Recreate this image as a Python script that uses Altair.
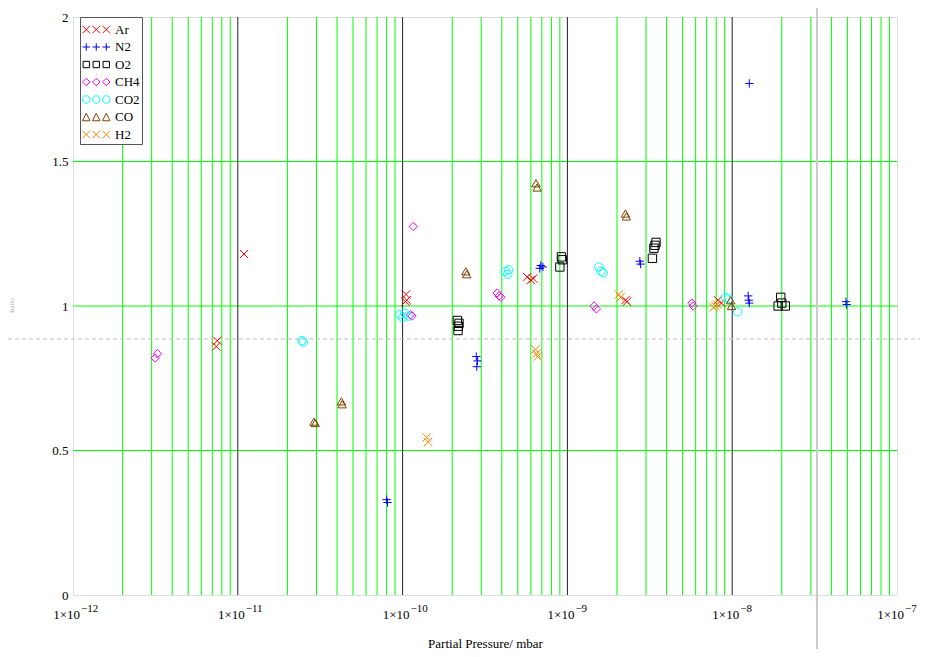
import altair as alt
import pandas as pd

# ---------------- data ----------------
gases = ["Ar", "N2", "O2", "CH4", "CO2", "CO", "H2"]
colors = ["#ff0000", "#0000ff", "#000000", "#ff00ff", "#00ffff", "#804000", "#ff8000"]

ar_p = [1.09e-11, 7.5e-12, 7.4e-12, 1.05e-10, 1.06e-10, 1.04e-10, 5.7e-10, 6.0e-10, 6.2e-10, 2.25e-9, 2.3e-9, 8.2e-9, 8.6e-9]
ar_r = [1.18, 0.88, 0.86, 1.04, 1.02, 1.015, 1.10, 1.09, 1.095, 1.02, 1.015, 1.02, 1.01]

n2_p = [1.27e-8, 8.0e-11, 8.1e-11, 2.8e-10, 2.85e-10, 2.82e-10, 6.9e-10, 6.8e-10, 7.1e-10, 2.75e-9, 2.78e-9, 1.25e-8, 1.26e-8, 1.27e-8, 4.9e-8, 4.95e-8]
n2_r = [1.77, 0.33, 0.32, 0.825, 0.81, 0.79, 1.14, 1.13, 1.135, 1.155, 1.145, 1.035, 1.02, 1.01, 1.015, 1.005]

o2_p = [2.15e-10, 2.2e-10, 2.18e-10, 2.17e-10, 9.2e-10, 9.3e-10, 9.0e-10, 3.45e-9, 3.4e-9, 3.35e-9, 3.28e-9, 1.97e-8, 2.0e-8, 1.9e-8, 2.1e-8]
o2_r = [0.95, 0.94, 0.93, 0.915, 1.17, 1.16, 1.135, 1.22, 1.21, 1.20, 1.165, 1.03, 1.01, 1.0, 1.0]

ch4_p = [3.15e-12, 3.25e-12, 1.16e-10, 1.12e-10, 1.14e-10, 3.75e-10, 3.85e-10, 3.95e-10, 1.45e-9, 1.5e-9, 5.7e-9, 5.8e-9]
ch4_r = [0.82, 0.835, 1.275, 0.97, 0.965, 1.045, 1.035, 1.03, 1.0, 0.99, 1.01, 1.0]

co2_p = [2.45e-11, 2.5e-11, 9.6e-11, 1.03e-10, 1.08e-10, 1.0e-10, 4.2e-10, 4.35e-10, 4.4e-10, 1.55e-9, 1.6e-9, 1.65e-9, 9.1e-9, 9.5e-9, 1.08e-8]
co2_r = [0.88, 0.875, 0.97, 0.975, 0.965, 0.96, 1.12, 1.11, 1.125, 1.135, 1.12, 1.115, 1.03, 1.025, 0.98]

co_p = [2.9e-11, 2.95e-11, 4.25e-11, 4.3e-11, 2.42e-10, 2.45e-10, 6.45e-10, 6.55e-10, 2.25e-9, 2.28e-9, 9.8e-9, 9.9e-9]
co_r = [0.60, 0.595, 0.67, 0.66, 1.12, 1.11, 1.425, 1.41, 1.32, 1.31, 1.02, 1.0]

h2_p = [1.4e-10, 1.43e-10, 6.4e-10, 6.5e-10, 6.6e-10, 2.05e-9, 2.1e-9, 7.9e-9, 8.1e-9, 7.7e-9]
h2_r = [0.545, 0.53, 0.85, 0.835, 0.825, 1.04, 1.03, 1.0, 1.005, 0.995]

x_ticks = [1e-12, 1e-11, 1e-10, 1e-9, 1e-8, 1e-7]
x_tick_base = ["1×10"] * 6
x_tick_exp = ["−12", "−11", "−10", "−9", "−8", "−7"]
y_ticks = [0, 0.5, 1, 1.5, 2]
y_grid = [0.5, 1, 1.5]
decade_lines = [1e-11, 1e-10, 1e-9, 1e-8]
minor_lines = [m * 10.0 ** e for e in range(-12, -7) for m in range(2, 10)]
cursor_p = [3.27e-8]
cursor_r = [0.886]

# ---------------- build tables ----------------
series = [(ar_p, ar_r), (n2_p, n2_r), (o2_p, o2_r), (ch4_p, ch4_r),
          (co2_p, co2_r), (co_p, co_r), (h2_p, h2_r)]
rows = []
for g, (ps, rs) in zip(gases, series):
    for p, r in zip(ps, rs):
        rows.append({"gas": g, "p": p, "r": r})
pts = pd.DataFrame(rows)
tick_df = pd.DataFrame({"p": x_ticks, "base": x_tick_base, "exp": x_tick_exp})

FONT = "Liberation Serif"
W, H = 824, 578

xscale = alt.Scale(type="log", domain=[1e-12, 1e-7], nice=False)
yscale = alt.Scale(domain=[0, 2], nice=False, zero=False)
xaxis = alt.Axis(values=x_ticks, labels=False, grid=False, ticks=False, domain=False,
                 title="Partial Pressure/ mbar", titleFont=FONT,
                 titleFontSize=13, titleFontWeight="normal", titleColor="black",
                 titleY=48, titleBaseline="middle")
yaxis = alt.Axis(values=y_ticks, format="~g", grid=False, ticks=False, domain=False,
                 labelFont=FONT, labelFontSize=13, labelColor="black", labelPadding=5,
                 title="Ratio", titleFont=FONT, titleFontSize=7, titleFontWeight="normal",
                 titleColor="#aaaaaa", titleAngle=-90, titleX=-59, titleY=288,
                 titleAlign="center")

def X(field):
    return alt.X(field, type="quantitative", scale=xscale, axis=xaxis)

def Y(field):
    return alt.Y(field, type="quantitative", scale=yscale, axis=yaxis)

minor_df = pd.DataFrame({"p": minor_lines})
decade_df = pd.DataFrame({"p": decade_lines})
hgrid_df = pd.DataFrame({"r": y_grid})
cur_df = pd.DataFrame({"p": cursor_p, "r": cursor_r})

minor = alt.Chart(minor_df).mark_rule(color="#00ff00", strokeWidth=1).encode(x=X("p"))
hgrid = alt.Chart(hgrid_df).mark_rule(color="#00ff00", strokeWidth=1).encode(y=Y("r"))
decade = alt.Chart(decade_df).mark_rule(color="#222222", strokeWidth=1).encode(x=X("p"))
vcur = alt.Chart(cur_df).mark_rule(color="#cccccc", strokeWidth=2, clip=False).encode(
    x=X("p"), y=alt.value(-9), y2=alt.value(H + 54))
hcur = alt.Chart(cur_df).mark_rule(color="#bbbbbb", strokeWidth=1, strokeDash=[4, 3], clip=False).encode(
    y=Y("r"), x=alt.value(-65), x2=alt.value(W + 23))

tick_base = alt.Chart(tick_df).mark_text(font=FONT, fontSize=13, color="black", align="right",
                                         baseline="middle", dx=7).encode(
    x=X("p"), y=alt.value(H + 20), text="base:N")
tick_exp = alt.Chart(tick_df).mark_text(font=FONT, fontSize=11, color="black", align="left",
                                        baseline="middle", dx=8).encode(
    x=X("p"), y=alt.value(H + 14), text="exp:N")

X_PATH = "M-1,-1L1,1M-1,1L1,-1"
PLUS_PATH = "M-1,0L1,0M0,-1L0,1"
point_shapes = [X_PATH, PLUS_PATH, "square", "diamond", "circle", "triangle-up", X_PATH]

# triple-symbol paths for legend (symbol box is 10px = 2 units; the path runs
# to the right of it, 5px per unit)
cs = [-0.45, 1.55, 3.55]
h = 0.75
def trip(fn):
    return "".join(fn(c) for c in cs)
leg_x = trip(lambda c: f"M{c-h},{-h}L{c+h},{h}M{c-h},{h}L{c+h},{-h}")
leg_plus = trip(lambda c: f"M{c-h},0L{c+h},0M{c},{-h}L{c},{h}")
leg_sq = trip(lambda c: f"M{c-h*0.85},{-h*0.85}L{c+h*0.85},{-h*0.85}L{c+h*0.85},{h*0.85}L{c-h*0.85},{h*0.85}Z")
leg_dia = trip(lambda c: f"M{c},{-h}L{c+h},0L{c},{h}L{c-h},0Z")
leg_circ = trip(lambda c: f"M{c-h},0A{h},{h} 0 1,0 {c+h},0A{h},{h} 0 1,0 {c-h},0Z")
leg_tri = trip(lambda c: f"M{c},{-h}L{c+h},{h}L{c-h},{h}Z")
legend_shapes = [leg_x, leg_plus, leg_sq, leg_dia, leg_circ, leg_tri, leg_x]

points = alt.Chart(pts).mark_point(filled=False, strokeWidth=1, size=70, opacity=1).encode(
    x=X("p"), y=Y("r"),
    color=alt.Color("gas:N", scale=alt.Scale(domain=gases, range=colors), legend=None),
    shape=alt.Shape("gas:N", scale=alt.Scale(domain=gases, range=point_shapes), legend=None),
)

leg = alt.Legend(title=" ", titleFontSize=2, titlePadding=2, orient="none", legendX=7, legendY=0,
                 strokeColor="#555555", fillColor="white", padding=2, symbolSize=100,
                 symbolStrokeWidth=1, labelFont=FONT, labelFontSize=13, labelColor="black",
                 rowPadding=3.5, symbolOffset=0, labelOffset=20, cornerRadius=0,
                 labelExpr="datum.label + '   '")

legend_layer = alt.Chart(pts).mark_point(filled=False, strokeWidth=1, opacity=1).encode(
    x=X("p"), y=Y("r"),
    color=alt.Color("gas:N", scale=alt.Scale(domain=gases, range=colors), legend=leg),
    shape=alt.Shape("gas:N", scale=alt.Scale(domain=gases, range=legend_shapes), legend=leg),
).transform_filter("false")

chart = alt.layer(minor, hgrid, decade, hcur, vcur, tick_base, tick_exp, points, legend_layer).resolve_scale(
    color="independent", shape="independent"
).properties(
    width=W, height=H,
    autosize=alt.AutoSizeParams(type="none"),
    padding={"left": 65, "top": 9, "right": 23, "bottom": 54},
).configure_view(stroke="#555555", strokeWidth=1).configure(background="white")

chart.save("out.html", embed_options={"renderer": "svg", "actions": False})
